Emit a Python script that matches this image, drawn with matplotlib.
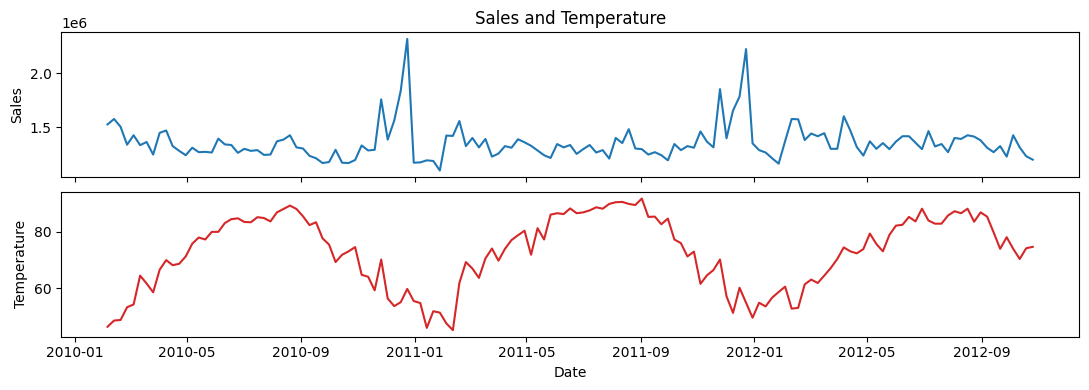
import numpy as np
import pandas as pd
import matplotlib
matplotlib.use("Agg")
import matplotlib.pyplot as plt

# weekly dates (Fridays), 2010-02-05 .. 2012-10-26
dates = pd.date_range("2010-02-05", periods=143, freq="7D")

# weekly sales, in millions
sales_m = [
    1.528, 1.578, 1.506, 1.341, 1.428, 1.337, 1.366, 1.250, 1.450, 1.472,
    1.328, 1.284, 1.244, 1.313, 1.272, 1.275, 1.269, 1.397, 1.344, 1.338,
    1.266, 1.303, 1.284, 1.291, 1.247, 1.250, 1.372, 1.388, 1.428, 1.316,
    1.306, 1.238, 1.216, 1.172, 1.181, 1.294, 1.175, 1.172, 1.200, 1.334,
    1.288, 1.294, 1.759, 1.388, 1.563, 1.838, 2.316, 1.175, 1.178, 1.197,
    1.191, 1.103, 1.425, 1.422, 1.559, 1.328, 1.403, 1.316, 1.394, 1.231,
    1.259, 1.328, 1.313, 1.391, 1.363, 1.331, 1.288, 1.244, 1.219, 1.347,
    1.316, 1.338, 1.256, 1.300, 1.338, 1.269, 1.291, 1.213, 1.403, 1.356,
    1.484, 1.306, 1.300, 1.250, 1.272, 1.244, 1.197, 1.347, 1.291, 1.328,
    1.313, 1.463, 1.369, 1.316, 1.853, 1.400, 1.656, 1.784, 2.222, 1.353,
    1.291, 1.269, 1.216, 1.166, 1.375, 1.578, 1.575, 1.384, 1.444, 1.419,
    1.447, 1.303, 1.303, 1.603, 1.472, 1.319, 1.241, 1.372, 1.303, 1.356,
    1.300, 1.369, 1.419, 1.419, 1.359, 1.300, 1.466, 1.325, 1.347, 1.272,
    1.403, 1.394, 1.428, 1.416, 1.381, 1.313, 1.272, 1.328, 1.231, 1.428,
    1.316, 1.234, 1.203,
]

temperature = [
    46.4, 48.6, 48.8, 53.3, 54.3, 64.5, 61.7, 58.6, 66.6, 70.0,
    68.2, 68.7, 71.3, 75.8, 78.0, 77.3, 80.0, 80.0, 83.1, 84.5,
    84.8, 83.5, 83.4, 85.2, 84.9, 83.7, 86.9, 88.1, 89.3, 88.1,
    85.5, 82.4, 83.4, 77.7, 75.5, 69.3, 71.9, 73.1, 74.6, 64.8,
    64.1, 59.3, 70.2, 56.4, 53.7, 55.1, 59.8, 55.5, 54.8, 46.0,
    51.9, 51.4, 47.6, 45.2, 61.9, 69.3, 67.0, 63.7, 70.6, 74.1,
    69.8, 74.0, 77.1, 78.8, 80.4, 71.9, 81.3, 77.3, 86.1, 86.6,
    86.3, 88.3, 86.6, 86.9, 87.6, 88.7, 88.2, 89.9, 90.5, 90.6,
    89.9, 89.5, 91.8, 85.3, 85.4, 82.7, 84.7, 77.3, 76.0, 71.3,
    73.0, 61.6, 64.6, 66.5, 70.2, 57.2, 51.3, 60.2, 54.9, 49.6,
    54.9, 53.6, 56.7, 58.7, 60.6, 52.8, 53.1, 61.4, 63.1, 61.9,
    64.5, 67.2, 70.4, 74.5, 73.1, 72.4, 73.9, 79.4, 75.7, 73.1,
    78.9, 82.2, 82.5, 85.3, 83.7, 88.2, 84.0, 82.9, 82.9, 85.8,
    87.3, 86.6, 88.2, 83.6, 86.9, 85.4, 79.8, 74.0, 78.1, 74.0,
    70.4, 74.2, 74.7,
]

sales = np.array(sales_m) * 1e6

fig, (ax1, ax2) = plt.subplots(2, 1, figsize=(10.89, 3.9), dpi=100, sharex=True)

ax1.plot(dates, sales, color="tab:blue")
ax1.set_ylabel("Sales")
ax1.set_title("Sales and Temperature")

ax2.plot(dates, temperature, color="tab:red")
ax2.set_ylabel("Temperature")
ax2.set_xlabel("Date")

# tighter padding, like a bbox_inches="tight" save
fig.tight_layout(pad=0.72)
fig.savefig("out.png")
